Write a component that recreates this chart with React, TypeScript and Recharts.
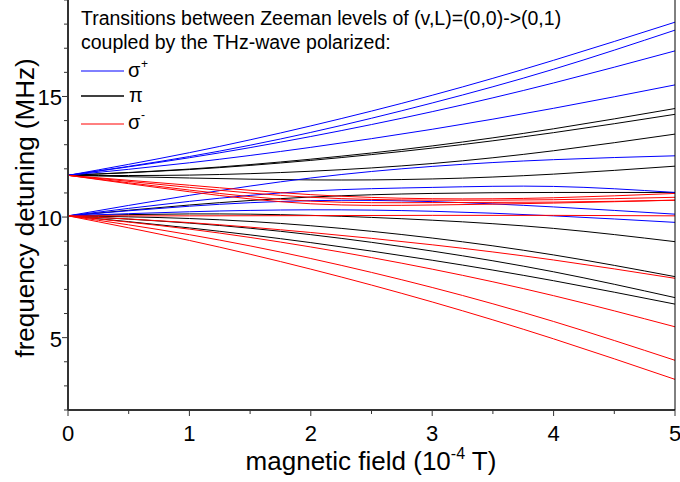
import React from 'react';
import { LineChart, Line, XAxis, YAxis } from 'recharts';

const FONT = 'Arial, "Liberation Sans", Helvetica, sans-serif';
const AXIS = '#333333';

// magnetic field (10^-4 T)
const fieldValues = [0, 1, 2, 3, 4, 5];

// sigma+ transitions (blue), MHz
const sigmaPlusCurves: number[][] = [
  [11.73, 12.67, 13.78, 15.05, 16.5, 18.08],
  [11.73, 12.51, 13.51, 14.73, 16.13, 17.75],
  [11.73, 12.46, 13.34, 14.37, 15.56, 16.89],
  [11.73, 12.25, 12.89, 13.64, 14.51, 15.48],
  [10.05, 10.9, 11.62, 12.1, 12.38, 12.54],
  [10.05, 10.65, 11.08, 11.23, 11.27, 11.02],
  [10.05, 10.45, 10.68, 10.64, 10.42, 10.12],
  [10.05, 10.22, 10.3, 10.24, 10.05, 9.78],
];

// pi transitions (black), MHz
const piCurves: number[][] = [
  [11.73, 11.99, 12.4, 12.95, 13.66, 14.5],
  [11.73, 11.97, 12.35, 12.86, 13.5, 14.26],
  [11.73, 11.74, 11.9, 12.22, 12.75, 13.44],
  [11.73, 11.62, 11.54, 11.58, 11.78, 12.11],
  [10.05, 10.5, 10.83, 10.98, 11.02, 11.02],
  [10.05, 10.13, 10.07, 9.87, 9.53, 8.98],
  [10.05, 9.94, 9.64, 9.13, 8.43, 7.53],
  [10.05, 9.75, 9.27, 8.59, 7.73, 6.66],
  [10.05, 9.55, 8.94, 8.21, 7.36, 6.39],
];

// sigma- transitions (red), MHz
const sigmaMinusCurves: number[][] = [
  [11.73, 11.32, 10.93, 10.76, 10.8, 10.98],
  [11.73, 11.23, 10.82, 10.7, 10.72, 10.82],
  [11.73, 11.12, 10.66, 10.6, 10.62, 10.7],
  [11.73, 11.05, 10.55, 10.5, 10.58, 10.7],
  [10.05, 10.05, 10.06, 10.07, 10.07, 10.05],
  [10.05, 9.77, 9.36, 8.85, 8.22, 7.46],
  [10.05, 9.5, 8.76, 7.84, 6.74, 5.45],
  [10.05, 9.27, 8.28, 7.08, 5.67, 4.06],
  [10.05, 9.03, 7.84, 6.48, 4.95, 3.27],
];

const xDomain = [0, 5];
const yDomain = [2, 19];
const xTickValues = [0, 0.5, 1, 1.5, 2, 2.5, 3, 3.5, 4, 4.5, 5];
const xTickLabels = ['0', '1', '2', '3', '4', '5'];
const yTickValues = [2, 3, 4, 5, 6, 7, 8, 9, 10, 11, 12, 13, 14, 15, 16, 17, 18, 19];
const yTickLabels = ['5', '10', '15'];

const groups = [
  { key: 'pi', color: '#000000', curves: piCurves },
  { key: 'sp', color: '#0000ff', curves: sigmaPlusCurves },
  { key: 'sm', color: '#ff0000', curves: sigmaMinusCurves },
];

const data = fieldValues.map((x, i) => {
  const row: Record<string, number> = { x };
  groups.forEach((g) => g.curves.forEach((c, j) => { row[`${g.key}${j}`] = c[i]; }));
  return row;
});

const BottomTick = (props: any) => {
  const { x, y, payload } = props;
  const label = xTickLabels.find((l) => Number(l) === payload.value);
  return (
    <g>
      <line x1={x} x2={x} y1={y} y2={y + (label ? 6 : 4)} stroke={AXIS} strokeWidth={1} />
      {label && (
        <text x={x} y={y + 31} textAnchor="middle" fontSize={22} fontFamily={FONT} fill="#000">{label}</text>
      )}
    </g>
  );
};

const LeftTick = (props: any) => {
  const { x, y, payload } = props;
  const label = yTickLabels.find((l) => Number(l) === payload.value);
  return (
    <g>
      <line x1={x - (label ? 6 : 4)} x2={x} y1={y} y2={y} stroke={AXIS} strokeWidth={1} />
      {label && (
        <text x={x - 6} y={y + 9} textAnchor="end" fontSize={22} fontFamily={FONT} fill="#000">{label}</text>
      )}
    </g>
  );
};

const RightTick = (props: any) => {
  const { x, y } = props;
  return <line x1={x} x2={x + 5} y1={y} y2={y} stroke="#000" strokeWidth={1} />;
};

export default function App() {
  return (
    <div style={{ position: 'absolute', left: 0, top: 0, width: 680, height: 482, background: '#fff' }}>
      <LineChart width={680} height={482} data={data} margin={{ top: 0, right: 0, bottom: 0, left: 0 }}>
        <XAxis
          dataKey="x"
          type="number"
          domain={xDomain}
          ticks={xTickValues}
          interval={0}
          tickSize={0}
          tickMargin={0}
          tick={<BottomTick />}
          axisLine={{ stroke: AXIS, strokeWidth: 2 }}
          height={72}
        />
        <XAxis
          xAxisId="top"
          orientation="top"
          dataKey="x"
          type="number"
          domain={xDomain}
          tick={false}
          tickLine={false}
          axisLine={{ stroke: '#000', strokeWidth: 2 }}
          height={0}
        />
        <YAxis
          type="number"
          domain={yDomain}
          ticks={yTickValues}
          interval={0}
          tickSize={0}
          tickMargin={0}
          tick={<LeftTick />}
          axisLine={{ stroke: AXIS, strokeWidth: 2 }}
          width={68}
        />
        <YAxis
          yAxisId="right"
          orientation="right"
          type="number"
          domain={yDomain}
          ticks={yTickValues}
          interval={0}
          tickSize={0}
          tickMargin={0}
          tick={<RightTick />}
          axisLine={{ stroke: '#000', strokeWidth: 1 }}
          width={5}
        />
        {groups.map((g) =>
          g.curves.map((_, j) => (
            <Line
              key={`${g.key}${j}`}
              dataKey={`${g.key}${j}`}
              type="natural"
              stroke={g.color}
              strokeWidth={1}
              dot={false}
              activeDot={false}
              isAnimationActive={false}
            />
          ))
        )}
      </LineChart>
      <svg width={680} height={482} style={{ position: 'absolute', left: 0, top: 0, pointerEvents: 'none' }} fontFamily={FONT}>
        <text x={81} y={25} fontSize={19.5} fill="#000">Transitions between Zeeman levels of (v,L)=(0,0)-&gt;(0,1)</text>
        <text x={81} y={49} fontSize={19.5} fill="#000">coupled by the THz-wave polarized:</text>
        <line x1={81} x2={124} y1={71} y2={71} stroke="#0000ff" strokeWidth={1} />
        <line x1={81} x2={124} y1={96} y2={96} stroke="#000" strokeWidth={1.5} />
        <line x1={81} x2={124} y1={124} y2={124} stroke="#ff0000" strokeWidth={1} />
        <text x={128} y={77} fontSize={20} fill="#000">σ</text>
        <text x={141} y={68} fontSize={12} fill="#000">+</text>
        <text x={129} y={102} fontSize={20} fill="#000">π</text>
        <text x={128} y={129} fontSize={20} fill="#000">σ</text>
        <text x={141} y={119} fontSize={12} fill="#000">-</text>
        <text transform="translate(34,208) rotate(-90)" textAnchor="middle" fontSize={26} fill="#000">frequency detuning (MHz)</text>
        <text x={371} y={470} textAnchor="middle" fontSize={26} fill="#000">
          magnetic field (10<tspan dy={-11} fontSize={16}>-4</tspan><tspan dy={11}> T)</tspan>
        </text>
      </svg>
    </div>
  );
}
